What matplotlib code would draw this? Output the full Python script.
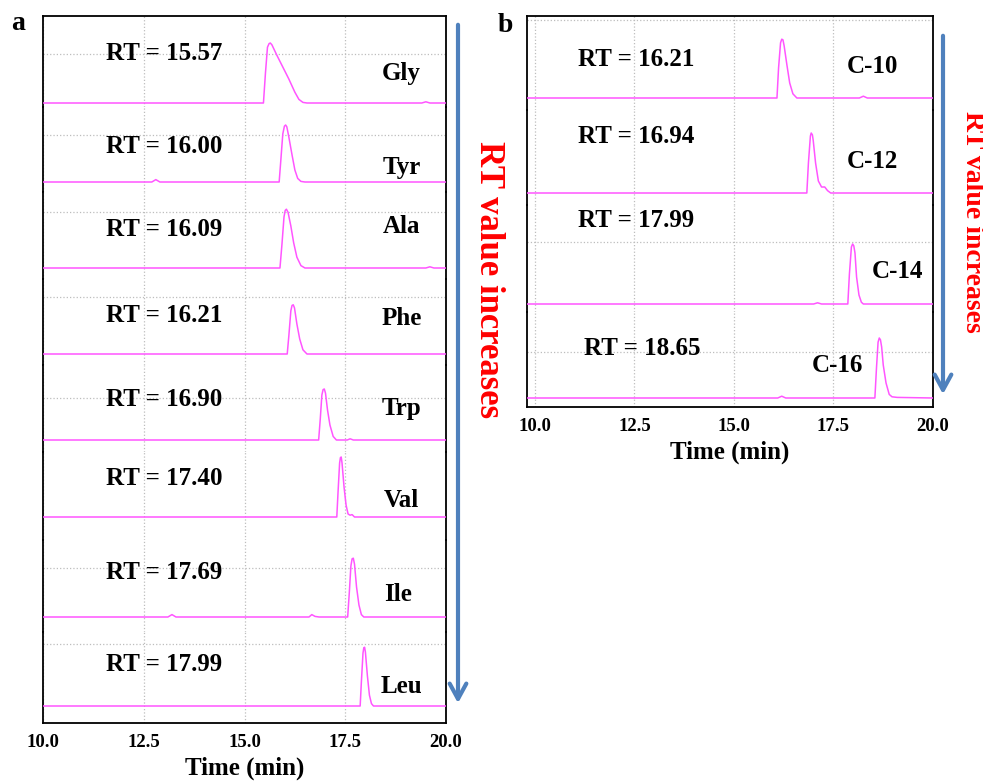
import matplotlib
matplotlib.use("Agg")
import matplotlib.pyplot as plt

plt.rcParams['font.family'] = ['Liberation Serif', 'DejaVu Serif']
plt.rcParams['font.weight'] = 'bold'

# ---- panel a: amino acids ----
names_a = ["Gly", "Tyr", "Ala", "Phe", "Trp", "Val", "Ile", "Leu"]
rt_a = ["15.57", "16.00", "16.09", "16.21", "16.90", "17.40", "17.69", "17.99"]

gly_time = [10, 15.47, 15.52, 15.57, 15.61, 15.64, 15.68, 15.8, 15.95, 16.1, 16.25, 16.35, 16.45, 16.55, 19.4, 19.5, 19.6, 20]
gly_signal = [0, 0, 0.5, 0.93, 0.99, 1.0, 0.97, 0.8, 0.6, 0.4, 0.18, 0.06, 0.01, 0, 0, 0.02, 0, 0]
tyr_time = [10, 12.7, 12.8, 12.9, 15.86, 15.9, 15.95, 15.99, 16.02, 16.05, 16.1, 16.18, 16.25, 16.32, 16.4, 16.5, 20]
tyr_signal = [0, 0, 0.04, 0, 0, 0.35, 0.8, 0.93, 0.95, 0.92, 0.75, 0.45, 0.2, 0.06, 0.01, 0, 0]
ala_time = [10, 15.88, 15.93, 15.98, 16.01, 16.04, 16.08, 16.15, 16.22, 16.3, 16.4, 16.5, 19.5, 19.6, 19.7, 20]
ala_signal = [0, 0, 0.4, 0.85, 0.96, 0.98, 0.93, 0.7, 0.42, 0.18, 0.04, 0, 0, 0.02, 0, 0]
phe_time = [10, 16.06, 16.1, 16.15, 16.18, 16.21, 16.24, 16.3, 16.37, 16.45, 16.55, 20]
phe_signal = [0, 0, 0.3, 0.72, 0.81, 0.82, 0.77, 0.5, 0.25, 0.07, 0, 0]
trp_time = [10, 16.84, 16.88, 16.92, 16.95, 16.98, 17.01, 17.06, 17.12, 17.2, 17.28, 17.55, 17.62, 17.7, 20]
trp_signal = [0, 0, 0.35, 0.75, 0.84, 0.85, 0.78, 0.5, 0.25, 0.06, 0, 0, 0.02, 0, 0]
val_time = [10, 17.29, 17.32, 17.36, 17.38, 17.4, 17.42, 17.47, 17.52, 17.57, 17.62, 17.67, 17.73, 20]
val_signal = [0, 0, 0.4, 0.9, 0.99, 1.0, 0.9, 0.5, 0.2, 0.05, 0.03, 0.04, 0, 0]
ile_time = [10, 13.1, 13.2, 13.3, 16.6, 16.67, 16.75, 16.85, 17.56, 17.6, 17.64, 17.67, 17.7, 17.73, 17.78, 17.84, 17.9, 17.96, 20]
ile_signal = [0, 0, 0.04, 0, 0, 0.04, 0.01, 0, 0, 0.4, 0.85, 0.97, 0.98, 0.88, 0.5, 0.2, 0.04, 0, 0]
leu_time = [10, 17.87, 17.9, 17.94, 17.96, 17.98, 18.0, 18.05, 18.1, 18.15, 18.2, 20]
leu_signal = [0, 0, 0.4, 0.88, 0.97, 0.98, 0.9, 0.5, 0.18, 0.04, 0, 0]

# ---- panel b: fatty acids ----
names_b = ["C-10", "C-12", "C-14", "C-16"]
rt_b = ["16.21", "16.94", "17.99", "18.65"]

c10_time = [9.8, 16.08, 16.12, 16.17, 16.2, 16.23, 16.26, 16.33, 16.4, 16.48, 16.58, 18.15, 18.25, 18.35, 20]
c10_signal = [0, 0, 0.5, 0.92, 0.98, 0.97, 0.87, 0.55, 0.25, 0.07, 0, 0, 0.03, 0, 0]
c12_time = [9.8, 16.83, 16.87, 16.92, 16.94, 16.97, 16.99, 17.05, 17.12, 17.2, 17.28, 17.35, 17.43, 20]
c12_signal = [0, 0, 0.5, 0.95, 1.0, 0.97, 0.88, 0.5, 0.2, 0.1, 0.1, 0.04, 0, 0]
c14_time = [9.8, 17.0, 17.1, 17.2, 17.86, 17.9, 17.95, 17.98, 18.01, 18.04, 18.08, 18.14, 18.2, 18.25, 20]
c14_signal = [0, 0, 0.02, 0, 0, 0.5, 0.95, 1.0, 0.97, 0.85, 0.45, 0.15, 0.03, 0, 0]
c16_time = [9.8, 16.1, 16.2, 16.3, 18.54, 18.58, 18.62, 18.65, 18.68, 18.71, 18.75, 18.82, 18.9, 18.97, 19.1, 20]
c16_signal = [0, 0, 0.03, 0, 0, 0.5, 0.93, 1.0, 0.97, 0.85, 0.55, 0.25, 0.06, 0.02, 0.01, 0]

curves_a = [(gly_time, gly_signal), (tyr_time, tyr_signal), (ala_time, ala_signal),
            (phe_time, phe_signal), (trp_time, trp_signal), (val_time, val_signal),
            (ile_time, ile_signal), (leu_time, leu_signal)]
curves_b = [(c10_time, c10_signal), (c12_time, c12_signal),
            (c14_time, c14_signal), (c16_time, c16_signal)]

W, H = 983, 783
LINE = '#ff55ff'
fig = plt.figure(figsize=(W / 100, H / 100), dpi=100)


def px_axes(left, right, top, bottom):
    return fig.add_axes([left / W, 1 - bottom / H, (right - left) / W, (bottom - top) / H])


def draw_panel(left, right, edges, baselines, curves, xlim, xticks, grid_levels,
               names, rts, rt_pos, name_pos):
    unit = 60.0  # pixels per signal unit
    n = len(curves)
    axes = []
    for i in range(n):
        ax = px_axes(left, right, edges[i], edges[i + 1])
        ax.set_facecolor('none')
        t, s = curves[i]
        ax.plot(t, s, color=LINE, lw=1.1, zorder=3)
        ax.set_xlim(*xlim)
        ax.set_ylim(-(edges[i + 1] - baselines[i]) / unit, (baselines[i] - edges[i]) / unit)
        ax.set_xticks(xticks)
        ax.set_yticks([grid_levels[i]] if grid_levels[i] is not None else [])
        ax.tick_params(length=0, labelleft=False, labelbottom=(i == n - 1),
                       labelsize=13.5, pad=8)
        ax.grid(True, linestyle=':', color='#bdbdbd', lw=0.9)
        for sp in ['left', 'right', 'top', 'bottom']:
            ax.spines[sp].set_linewidth(1.3)
        if i > 0:
            ax.spines['top'].set_visible(False)
        if i < n - 1:
            ax.spines['bottom'].set_visible(False)
        rx, ry = rt_pos[i]
        ax.text(rx, ry - 0.14, "RT = " + rts[i], fontsize=18, fontweight='bold',
                ha='left', va='baseline')
        nx, ny = name_pos[i]
        ax.text(nx, ny - 0.14, names[i], fontsize=18, fontweight='bold',
                ha='center', va='baseline')
        axes.append(ax)
    last = axes[-1]
    last.set_xticklabels([f"{v:.1f}" for v in xticks], fontweight='bold')
    last.set_xlabel("Time (min)", fontsize=18, fontweight='bold', labelpad=4)
    return axes


draw_panel(43, 446, [16, 107, 192, 279, 365, 452, 540, 632, 723],
           [103, 182, 268, 354, 440, 517, 617, 706], curves_a,
           (10, 20), [10, 12.5, 15, 17.5, 20],
           [0.82, 0.78, 0.93, 0.95, 0.70, None, 0.82, 1.03],
           names_a, rt_a,
           [(11.57, y) for y in [0.85, 0.62, 0.67, 0.68, 0.70, 0.68, 0.78, 0.72]],
           [(18.9, 0.52), (18.9, 0.28), (18.9, 0.72), (18.9, 0.63),
            (18.9, 0.55), (18.9, 0.30), (18.8, 0.40), (18.9, 0.35)])

draw_panel(527, 933, [16, 110, 205, 312, 407], [98, 193, 304, 398], curves_b,
           (9.8, 20), [10, 12.5, 15, 17.5, 20],
           [1.3, None, 1.03, 0.77],
           names_b, rt_b,
           [(11.08, 0.67), (11.08, 0.97), (11.08, 1.42), (11.22, 0.85)],
           [(18.49, 0.55), (18.49, 0.55), (19.1, 0.58), (17.61, 0.58)])

# arrows and side notes
ARROW = '#4f81bd'
for x, y0, y1 in [(458, 22, 706), (943, 33, 397)]:
    fig.add_artist(matplotlib.patches.FancyArrowPatch(
        (x / W, 1 - y0 / H), (x / W, 1 - y1 / H), transform=fig.transFigure,
        arrowstyle='->,head_length=0.55,head_width=0.3', mutation_scale=20,
        color=ARROW, lw=3))

fig.text(489 / W, 1 - 280 / H, "RT value increases", rotation=270, color='red',
         fontsize=25, fontweight='bold', ha='center', va='center')
fig.text(972 / W, 1 - 222 / H, "RT value increases", rotation=270, color='red',
         fontsize=20, fontweight='bold', ha='center', va='center')

fig.text(18 / W, 1 - 23 / H, "a", fontsize=20, fontweight='bold', ha='center', va='center')
fig.text(505 / W, 1 - 25 / H, "b", fontsize=20, fontweight='bold', ha='center', va='center')

fig.savefig("out.png", dpi=100)
